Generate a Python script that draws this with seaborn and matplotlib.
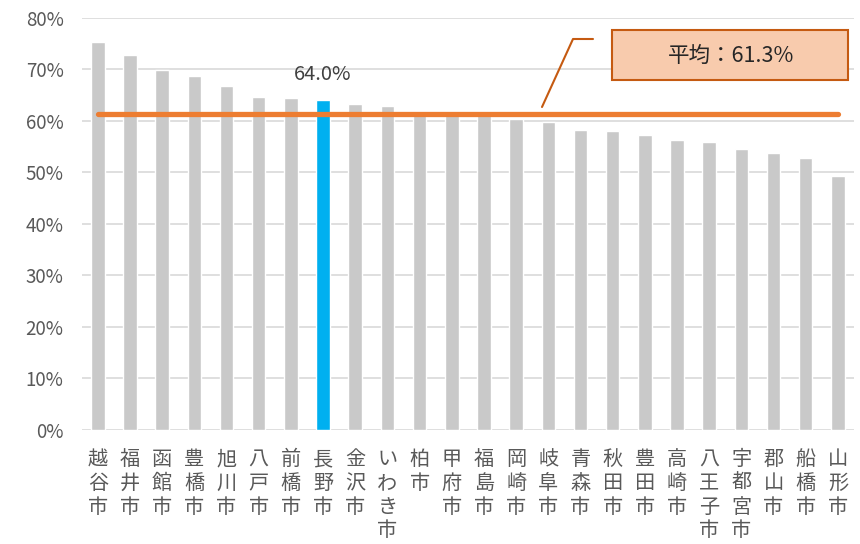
import matplotlib
matplotlib.use("Agg")
import matplotlib.pyplot as plt
import seaborn as sns
import pandas as pd
from matplotlib.patches import FancyBboxPatch

cities = ["越谷市", "福井市", "函館市", "豊橋市", "旭川市", "八戸市", "前橋市", "長野市",
          "金沢市", "いわき市", "柏市", "甲府市", "福島市", "岡崎市", "岐阜市", "青森市",
          "秋田市", "豊田市", "高崎市", "八王子市", "宇都宮市", "郡山市", "船橋市", "山形市"]
values = [75.3, 72.9, 69.9, 68.7, 66.7, 64.7, 64.4, 64.0,
          63.3, 63.0, 61.7, 61.5, 61.3, 60.4, 59.8, 58.2,
          58.1, 57.2, 56.3, 55.9, 54.6, 53.8, 52.8, 49.3]
average = 61.3
highlight = "長野市"
y_ticks = [0, 10, 20, 30, 40, 50, 60, 70, 80]

sns.set_theme(style="white")
plt.rcParams['font.family'] = ['Noto Sans CJK JP', 'DejaVu Sans']

df = pd.DataFrame({"city": cities, "value": values})
palette = {c: ("#00B0F0" if c == highlight else "#C9C9C9") for c in cities}

fig = plt.figure(figsize=(8.6, 5.44), dpi=100)
ax = fig.add_axes([0.095, 0.2096, 0.898, 0.7574])

sns.barplot(data=df, x="city", y="value", hue="city", palette=palette,
            legend=False, width=0.42, ax=ax, saturation=1)

ax.set_ylim(0, 80)
ax.set_xlim(-0.5, len(cities) - 0.5)
ax.set_yticks(y_ticks)
ax.set_yticklabels([f"{t}%" for t in y_ticks], fontsize=13.5, color="#595959")
ax.yaxis.grid(True, color="#D9D9D9", linewidth=1.2)
ax.set_axisbelow(True)
for s in ax.spines.values():
    s.set_visible(False)
ax.tick_params(axis="y", length=0, pad=13)
ax.tick_params(axis="x", length=0, pad=14)
ax.set_xticks(range(len(cities)))
ax.set_xticklabels(["\n".join(c) for c in cities], fontsize=14.5, color="#595959",
                   linespacing=1.16, va="top")
ax.set_xlabel("")
ax.set_ylabel("")

# average line
ax.plot(range(len(cities)), [average] * len(cities), color="#ED7D31", linewidth=3.8,
        solid_capstyle="round", zorder=5)

# highlight label
hi = cities.index(highlight)
ax.text(hi, values[hi] + 3.0, f"{values[hi]:.1f}%", ha="center", va="bottom",
        fontsize=14.5, color="#404040")

# callout
fig.patches.append(FancyBboxPatch((612 / 860, 1 - 80 / 544), 236 / 860, 50 / 544,
                                  boxstyle="square,pad=0", transform=fig.transFigure,
                                  facecolor="#F8CBAD", edgecolor="#C55A11", linewidth=1.5,
                                  zorder=10))
fig.text(731 / 860, 1 - 56 / 544, f"平均：{average}%", ha="center", va="center",
         fontsize=15.5, color="#262626", zorder=11)
fig.lines.append(plt.Line2D([542 / 860, 573 / 860, 593 / 860],
                            [1 - 107 / 544, 1 - 39 / 544, 1 - 39 / 544],
                            transform=fig.transFigure, color="#C55A11", linewidth=1.5))

fig.savefig("out.png", dpi=100)
